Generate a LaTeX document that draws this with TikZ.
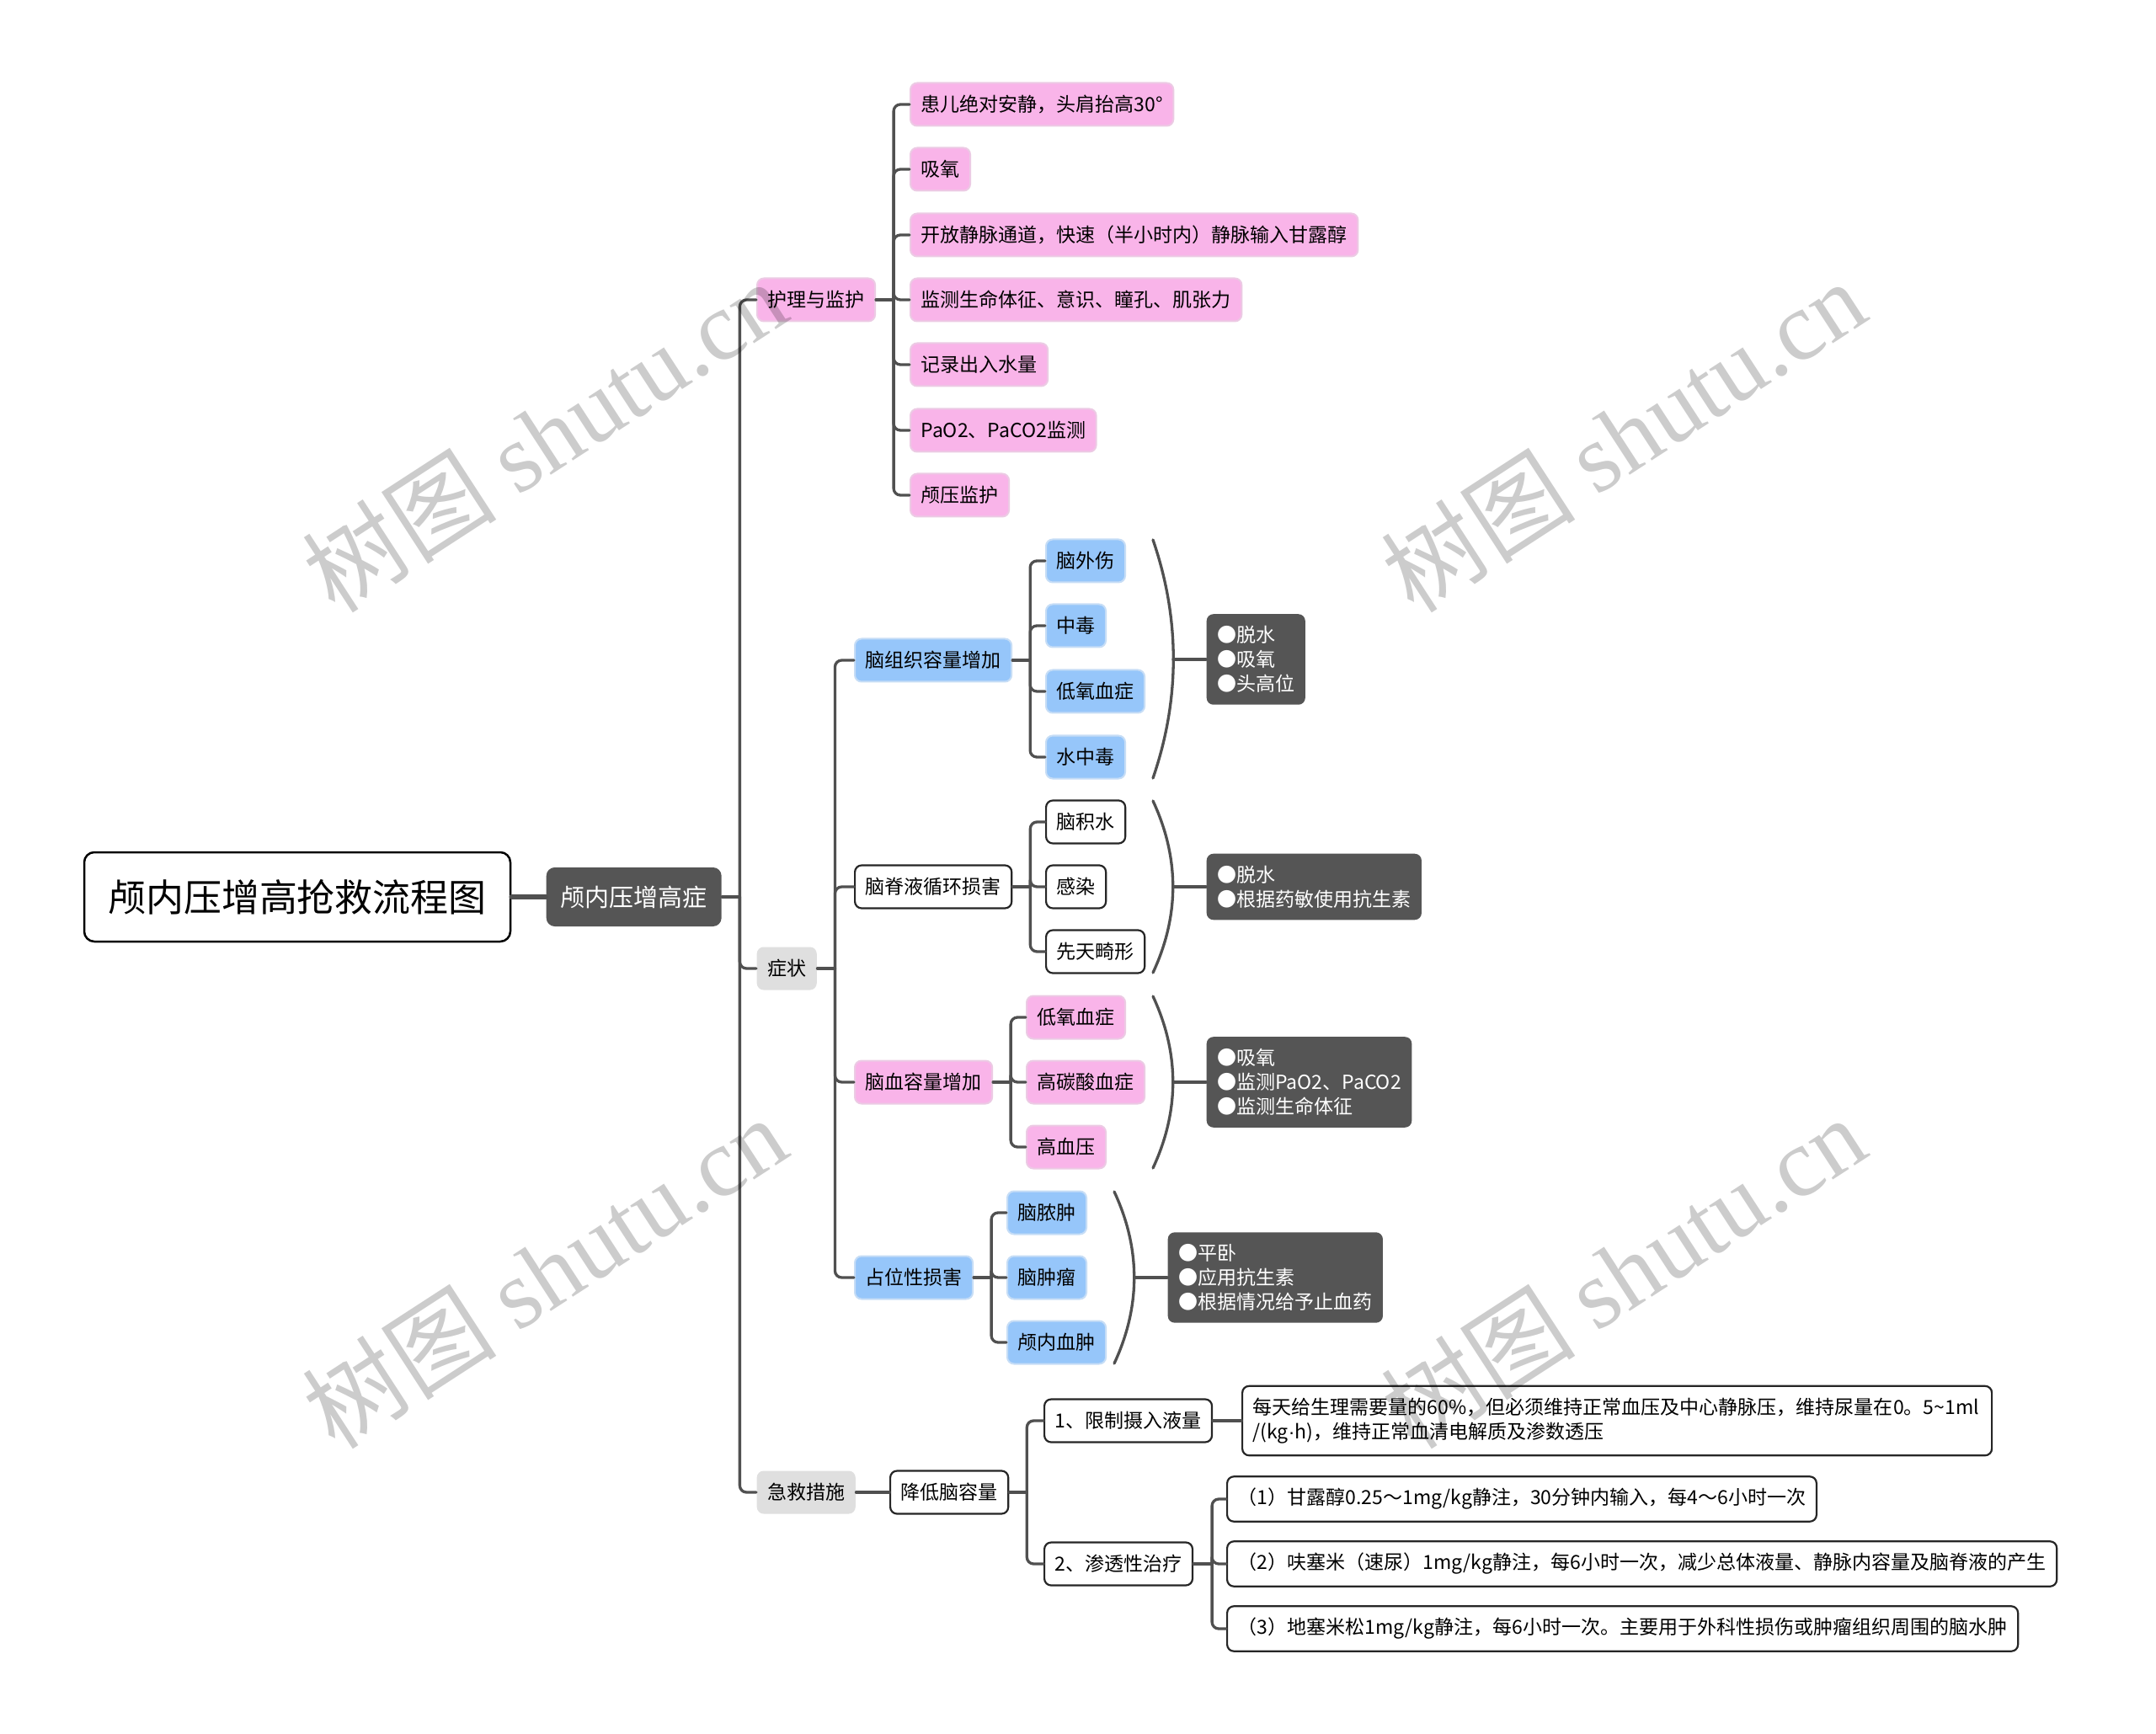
\documentclass[tikz,border=0pt]{standalone}
\usepackage{fontspec}
\setmainfont{Noto Sans CJK SC}
\newfontfamily\wmlatin{Liberation Serif}
\newfontfamily\latinsans{Liberation Sans}
\definecolor{edgegrey}{RGB}{80,80,80}
\definecolor{pinkfill}{RGB}{249,180,233}
\definecolor{pinkline}{RGB}{236,202,228}
\definecolor{bluefill}{RGB}{150,198,250}
\definecolor{blueline}{RGB}{198,221,246}
\definecolor{greyfill}{RGB}{223,223,223}
\definecolor{darkfill}{RGB}{85,85,85}

\begin{document}
\begin{tikzpicture}[x=1cm,y=1cm]
\tikzset{
  mapnode/.style={anchor=west,rounded corners=0.08cm,inner xsep=0.125cm,inner ysep=0.14cm,minimum height=0.51cm,font=\fontsize{6.55}{8.3}\selectfont},
  pinknode/.style={mapnode,fill=pinkfill,draw=pinkline,line width=0.02cm},
  bluenode/.style={mapnode,fill=bluefill,draw=blueline,line width=0.02cm},
  greynode/.style={mapnode,fill=greyfill},
  plainnode/.style={mapnode,fill=white,draw=black!85,line width=0.022cm},
  darknode/.style={mapnode,fill=darkfill,text=white,align=left},
  rootnode/.style={draw=black,line width=0.025cm,rounded corners=0.12cm,fill=white,minimum width=5.06cm,minimum height=1.06cm,font=\fontsize{12.8}{15}\selectfont},
  mainnode/.style={mapnode,fill=darkfill,text=white,rounded corners=0.1cm,inner xsep=0.17cm,minimum height=0.70cm,font=\fontsize{8.25}{10}\selectfont},
  mapedge/.style={draw=edgegrey,line width=0.033cm,line cap=round,line join=round,rounded corners=0.08cm},
  rootedge/.style={mapedge,line width=0.055cm},
  watermark/.style={rotate=33,text=black,text opacity=0.2,inner sep=0pt,font=\fontsize{33}{36}\selectfont}
}
\fill[white] (0,0) rectangle (25.60,-20.59);
\useasboundingbox (0,0) rectangle (25.60,-20.59);
\node[rootnode] (n_root) at (3.53,-10.65) {颅内压增高抢救流程图};
\node[mainnode] (n_main) at (6.48,-10.65) {颅内压增高症};
\node[pinknode] (n_care) at (8.98,-3.56) {护理与监护};
\node[greynode] (n_sym) at (8.98,-11.50) {症状};
\node[greynode] (n_resc) at (8.98,-17.72) {急救措施};
\node[pinknode] (n_care1) at (10.80,-1.24) {患儿绝对安静，头肩抬高30°};
\node[pinknode] (n_care2) at (10.80,-2.01) {吸氧};
\node[pinknode] (n_care3) at (10.80,-2.79) {开放静脉通道，快速（半小时内）静脉输入甘露醇};
\node[pinknode] (n_care4) at (10.80,-3.56) {监测生命体征、意识、瞳孔、肌张力};
\node[pinknode] (n_care5) at (10.80,-4.33) {记录出入水量};
\node[pinknode] (n_care6) at (10.80,-5.11) {PaO2、PaCO2监测};
\node[pinknode] (n_care7) at (10.80,-5.88) {颅压监护};
\node[bluenode] (n_tissue) at (10.14,-7.84) {脑组织容量增加};
\node[plainnode] (n_csf) at (10.14,-10.53) {脑脊液循环损害};
\node[pinknode] (n_blood) at (10.14,-12.85) {脑血容量增加};
\node[bluenode] (n_mass) at (10.14,-15.17) {占位性损害};
\node[bluenode] (n_tissue1) at (12.41,-6.66) {脑外伤};
\node[bluenode] (n_tissue2) at (12.41,-7.43) {中毒};
\node[bluenode] (n_tissue3) at (12.41,-8.21) {低氧血症};
\node[bluenode] (n_tissue4) at (12.41,-8.99) {水中毒};
\node[plainnode] (n_csf1) at (12.41,-9.76) {脑积水};
\node[plainnode] (n_csf2) at (12.41,-10.53) {感染};
\node[plainnode] (n_csf3) at (12.41,-11.30) {先天畸形};
\node[pinknode] (n_blood1) at (12.18,-12.08) {低氧血症};
\node[pinknode] (n_blood2) at (12.18,-12.85) {高碳酸血症};
\node[pinknode] (n_blood3) at (12.18,-13.62) {高血压};
\node[bluenode] (n_mass1) at (11.95,-14.40) {脑脓肿};
\node[bluenode] (n_mass2) at (11.95,-15.17) {脑肿瘤};
\node[bluenode] (n_mass3) at (11.95,-15.94) {颅内血肿};
\coordinate (b_tissuet) at (13.69,-6.41);
\coordinate (b_tissueb) at (13.69,-9.24);
\coordinate (b_tissuem) at (13.93,-7.83);
\coordinate (b_csft) at (13.69,-9.51);
\coordinate (b_csfb) at (13.69,-11.55);
\coordinate (b_csfm) at (13.93,-10.53);
\coordinate (b_bloodt) at (13.69,-11.83);
\coordinate (b_bloodb) at (13.69,-13.87);
\coordinate (b_bloodm) at (13.93,-12.85);
\coordinate (b_masst) at (13.23,-14.15);
\coordinate (b_massb) at (13.23,-16.19);
\coordinate (b_massm) at (13.47,-15.17);
\node[darknode] (n_tissuecare) at (14.32,-7.83) {●脱水\\●吸氧\\●头高位};
\node[darknode] (n_csfcare) at (14.32,-10.53) {●脱水\\●根据药敏使用抗生素};
\node[darknode] (n_bloodcare) at (14.32,-12.85) {●吸氧\\●监测PaO2、PaCO2\\●监测生命体征};
\node[darknode] (n_masscare) at (13.86,-15.17) {●平卧\\●应用抗生素\\●根据情况给予止血药};
\node[plainnode] (n_reduce) at (10.56,-17.72) {降低脑容量};
\node[plainnode] (n_limit) at (12.39,-16.87) {1、限制摄入液量};
\node[plainnode] (n_osmo) at (12.39,-18.57) {2、渗透性治疗};
\node[plainnode,text width=8.65cm,align=left] (n_limitnote) at (14.74,-16.87) {每天给生理需要量的60\%，但必须维持正常血压及中心静脉压，维持尿量在0。5\textasciitilde 1ml\\/(kg{\latinsans ·}h)，维持正常血清电解质及渗数透压};
\node[plainnode] (n_osmo1) at (14.56,-17.80) {（1）甘露醇0.25～1mg/kg静注，30分钟内输入，每4～6小时一次};
\node[plainnode] (n_osmo2) at (14.56,-18.57) {（2）呋塞米（速尿）1mg/kg静注，每6小时一次，减少总体液量、静脉内容量及脑脊液的产生};
\node[plainnode] (n_osmo3) at (14.56,-19.34) {（3）地塞米松1mg/kg静注，每6小时一次。主要用于外科性损伤或肿瘤组织周围的脑水肿};
\draw[rootedge] (n_root) -- (n_main);
\draw[mapedge] (n_main.east) -- ++(0.21,0) coordinate (s_main);
\draw[mapedge] (s_main) |- (n_care.west);
\draw[mapedge] (s_main) |- (n_sym.west);
\draw[mapedge] (s_main) |- (n_resc.west);
\draw[mapedge] (n_care.east) -- ++(0.21,0) coordinate (s_care);
\draw[mapedge] (s_care) |- (n_care1.west);
\draw[mapedge] (s_care) |- (n_care2.west);
\draw[mapedge] (s_care) |- (n_care3.west);
\draw[mapedge] (s_care) |- (n_care4.west);
\draw[mapedge] (s_care) |- (n_care5.west);
\draw[mapedge] (s_care) |- (n_care6.west);
\draw[mapedge] (s_care) |- (n_care7.west);
\draw[mapedge] (n_sym.east) -- ++(0.21,0) coordinate (s_sym);
\draw[mapedge] (s_sym) |- (n_tissue.west);
\draw[mapedge] (s_sym) |- (n_csf.west);
\draw[mapedge] (s_sym) |- (n_blood.west);
\draw[mapedge] (s_sym) |- (n_mass.west);
\draw[mapedge] (n_tissue.east) -- ++(0.21,0) coordinate (s_tissue);
\draw[mapedge] (s_tissue) |- (n_tissue1.west);
\draw[mapedge] (s_tissue) |- (n_tissue2.west);
\draw[mapedge] (s_tissue) |- (n_tissue3.west);
\draw[mapedge] (s_tissue) |- (n_tissue4.west);
\draw[mapedge] (n_csf.east) -- ++(0.21,0) coordinate (s_csf);
\draw[mapedge] (s_csf) |- (n_csf1.west);
\draw[mapedge] (s_csf) |- (n_csf2.west);
\draw[mapedge] (s_csf) |- (n_csf3.west);
\draw[mapedge] (n_blood.east) -- ++(0.21,0) coordinate (s_blood);
\draw[mapedge] (s_blood) |- (n_blood1.west);
\draw[mapedge] (s_blood) |- (n_blood2.west);
\draw[mapedge] (s_blood) |- (n_blood3.west);
\draw[mapedge] (n_mass.east) -- ++(0.21,0) coordinate (s_mass);
\draw[mapedge] (s_mass) |- (n_mass1.west);
\draw[mapedge] (s_mass) |- (n_mass2.west);
\draw[mapedge] (s_mass) |- (n_mass3.west);
\draw[mapedge] (b_tissuet) to[out=-71,in=71,looseness=0.9] (b_tissueb);
\draw[mapedge] (b_csft) to[out=-65,in=65,looseness=0.94] (b_csfb);
\draw[mapedge] (b_bloodt) to[out=-65,in=65,looseness=0.94] (b_bloodb);
\draw[mapedge] (b_masst) to[out=-65,in=65,looseness=0.94] (b_massb);
\draw[mapedge] (b_tissuem) -- (n_tissuecare.west);
\draw[mapedge] (b_csfm) -- (n_csfcare.west);
\draw[mapedge] (b_bloodm) -- (n_bloodcare.west);
\draw[mapedge] (b_massm) -- (n_masscare.west);
\draw[mapedge] (n_resc) -- (n_reduce);
\draw[mapedge] (n_reduce.east) -- ++(0.21,0) coordinate (s_reduce);
\draw[mapedge] (s_reduce) |- (n_limit.west);
\draw[mapedge] (s_reduce) |- (n_osmo.west);
\draw[mapedge] (n_limit) -- (n_limitnote);
\draw[mapedge] (n_osmo.east) -- ++(0.22,0) coordinate (s_osmo);
\draw[mapedge] (s_osmo) |- (n_osmo1.west);
\draw[mapedge] (s_osmo) |- (n_osmo2.west);
\draw[mapedge] (s_osmo) |- (n_osmo3.west);
\node[watermark] (n_wm1) at (6.46,-5.17) {树图 {\wmlatin shutu.cn}};
\node[watermark] (n_wm2) at (19.27,-5.17) {树图 {\wmlatin shutu.cn}};
\node[watermark] (n_wm3) at (6.46,-15.10) {树图 {\wmlatin shutu.cn}};
\node[watermark] (n_wm4) at (19.27,-15.10) {树图 {\wmlatin shutu.cn}};
\end{tikzpicture}
\end{document}
